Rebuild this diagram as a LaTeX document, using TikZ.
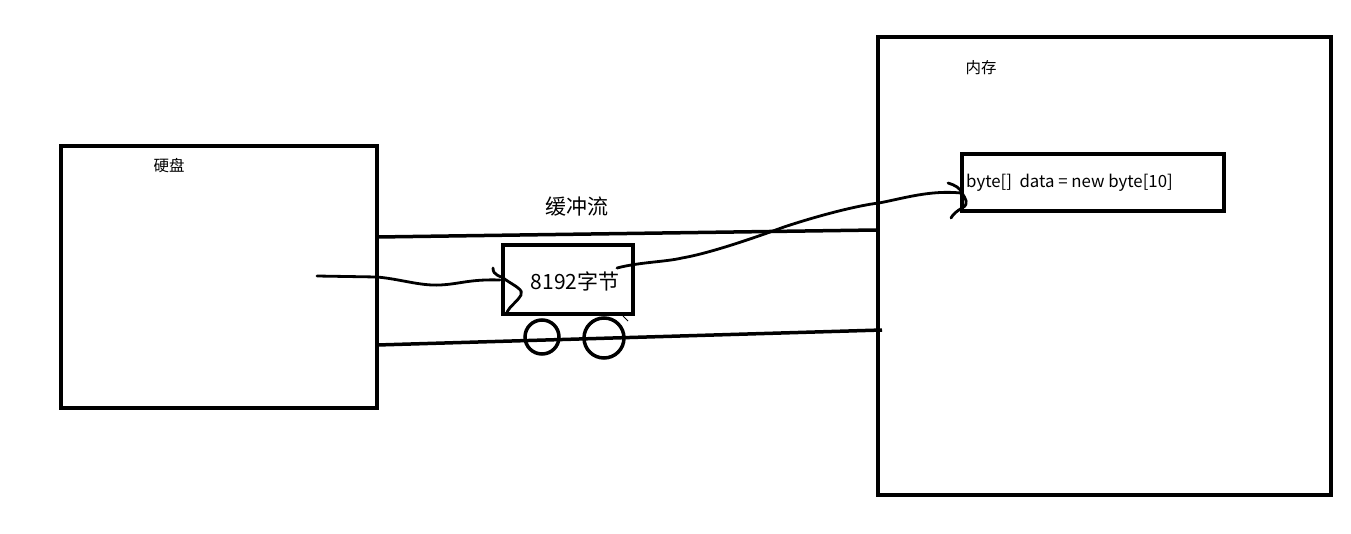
\documentclass[tikz,border=0pt]{standalone}
\usepackage{fontspec}
\setmainfont{Noto Sans CJK SC}
\begin{document}
\begin{tikzpicture}[x=1pt,y=-1pt,
  box/.style={draw,line width=4pt,inner sep=0pt,outer sep=0pt,anchor=north west},
  lbl/.style={inner sep=0pt},
  thick line/.style={line width=3.5pt},
  hand/.style={line width=2.8pt,line cap=round,line join=round}]
\useasboundingbox[fill=white] (0,0) rectangle (1351,533);
% boxes
\node[box,minimum width=316pt,minimum height=262pt] (disk) at (61,146) {};
\node[box,minimum width=453pt,minimum height=458pt] (mem) at (878,37) {};
\node[box,minimum width=262pt,minimum height=57pt] (arr) at (962,154) {};
\node[box,minimum width=130pt,minimum height=69pt] (buf) at (503,245) {};
% labels
\node[lbl] (disklbl) at (169,166) {\fontsize{15.5}{17}\selectfont 硬盘};
\node[lbl] (memlbl) at (981,68) {\fontsize{15.5}{17}\selectfont 内存};
\node[lbl,anchor=west] (arrlbl) at (966,183) {\fontsize{16.8}{19}\selectfont byte[]\ \ data = new byte[10]};
\node[lbl] (streamlbl) at (577,207) {\fontsize{21}{23}\selectfont 缓冲流};
\node[lbl] (buflbl) at (575,281) {\fontsize{21}{23}\selectfont 8192字节};
% pipe lines
\coordinate (t1) at (377,237); \coordinate (t2) at (876,230);
\coordinate (b1) at (377,345); \coordinate (b2) at (882,330);
\draw[thick line] (t1) -- (t2);
\draw[thick line] (b1) -- (b2);
% wheels
\node[draw,line width=3.5pt,circle,minimum size=34pt,inner sep=0pt] (w1) at (542,337) {};
\node[draw,line width=3.5pt,circle,minimum size=40pt,inner sep=0pt] (w2) at (604,338) {};
\coordinate (k1) at (623,316); \coordinate (k2) at (628,321);
\draw[line width=1pt] (k1) -- (k2);
% curve from disk to buffer
\coordinate (c1s) at (317,276);
\coordinate (c1e) at (500,280);
\draw[hand] (c1s) -- (377,277) .. controls (400,279) and (420,286) .. (440,285)
  .. controls (460,284) and (470,279) .. (c1e);
\draw[hand] (493,268) .. controls (493,276) and (500,275) .. (506,280)
  .. controls (515,286) and (524,290) .. (521,295)
  .. controls (517,302) and (510,306) .. (507,312);
% curve from buffer to array
\coordinate (c2s) at (617,268);
\coordinate (c2e) at (961,193);
\draw[hand] (c2s) .. controls (640,262) and (665,262) .. (682,258)
  .. controls (705,254) and (740,243) .. (784,227)
  .. controls (820,215) and (860,205) .. (879,203)
  .. controls (905,198) and (930,190) .. (c2e);
\draw[hand] (948,183) .. controls (955,185) and (960,188) .. (962,193)
  .. controls (965,198) and (970,204) .. (962,208)
  .. controls (957,211) and (953,214) .. (951,218);
\end{tikzpicture}
\end{document}
